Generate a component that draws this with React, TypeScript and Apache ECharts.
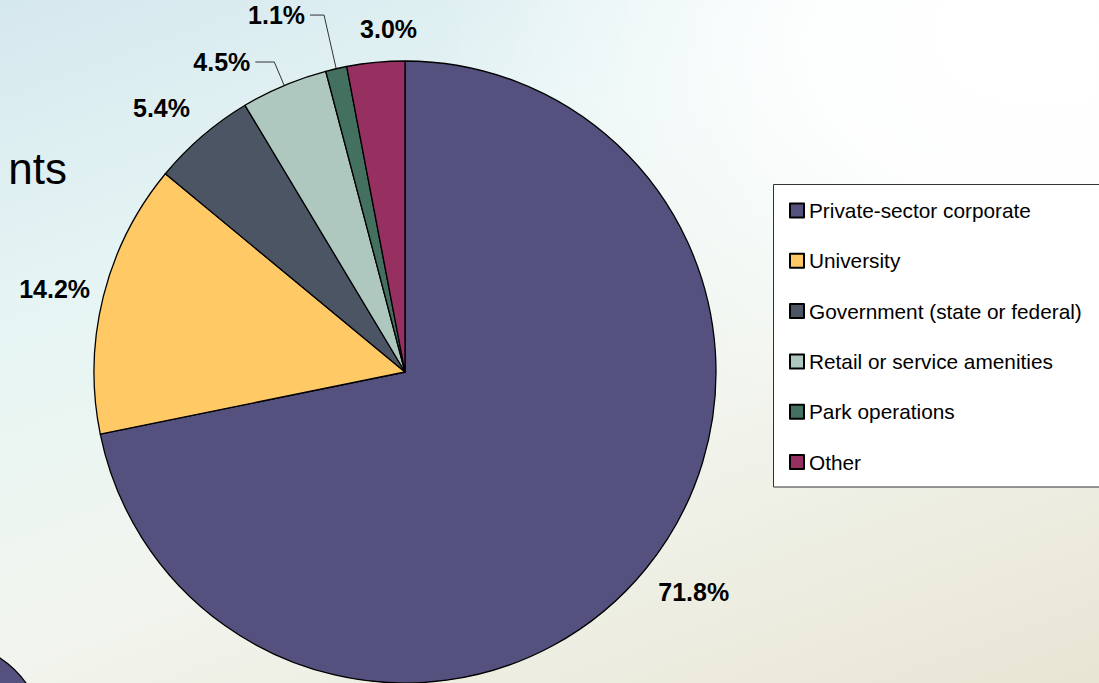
import React, { useEffect, useRef } from "react";
import * as echarts from "echarts";

const categories = [
  "Private-sector corporate",
  "University",
  "Government (state or federal)",
  "Retail or service amenities",
  "Park operations",
  "Other",
];
const shares = [71.8, 14.2, 5.4, 4.5, 1.1, 3.0];
const colors = ["#55517e", "#ffc966", "#4b5563", "#aec8bf", "#44705f", "#963060"];
// label line lengths (radial, horizontal) and visibility per slice
const lineLen = [36.7, 31, 37, 25.4, 55, 33.5];
const lineLen2 = [-21, -21.8, -16.8, 19, 14, -49.5];
const lineShow = [false, false, false, true, true, false];

const FONT = '"Liberation Sans", Arial, Helvetica, sans-serif';

export default function App() {
  const ref = useRef<HTMLDivElement>(null);
  useEffect(() => {
    if (!ref.current) return;
    const chart = echarts.init(ref.current, null, { renderer: "svg" });
    chart.setOption({
      animation: false,
      backgroundColor: "transparent",
      graphic: [
        {
          type: "text",
          right: 1099 - 67,
          top: 146,
          style: { text: "nts", font: `44px ${FONT}`, fill: "#000" },
          z: 1,
        },
        {
          type: "circle",
          shape: { cx: -56, cy: 742, r: 101 },
          style: { fill: "#55517e", stroke: "#000", lineWidth: 1.2 },
          z: 1,
        },
        {
          type: "rect",
          shape: { x: 773.5, y: 184.5, width: 330, height: 302.5 },
          style: { fill: "#ffffff", stroke: "#333", lineWidth: 1 },
          z: 1,
        },
      ],
      legend: {
        orient: "vertical",
        left: 789,
        top: 200,
        padding: 0,
        itemWidth: 14,
        itemHeight: 14,
        itemGap: 29.3,
        icon: "rect",
        selectedMode: false,
        textStyle: { fontFamily: FONT, fontSize: 20.8, color: "#000", lineHeight: 20 },
        z: 5,
      },
      series: [
        {
          type: "pie",
          center: [405, 372],
          radius: 311,
          startAngle: 90,
          clockwise: true,
          avoidLabelOverlap: false,
          itemStyle: { borderColor: "#000", borderWidth: 1.3 },
          label: {
            show: true,
            position: "outside",
            formatter: (p: any) => `${Number(p.value).toFixed(1)}%`,
            fontFamily: FONT,
            fontWeight: "bold",
            fontSize: 25,
            color: "#000",
            distanceToLabelLine: 5,
          },
          labelLine: { lineStyle: { color: "#333", width: 1 } },
          emphasis: { disabled: true },
          data: categories.map((name, i) => ({
            name,
            value: shares[i],
            itemStyle: { color: colors[i] },
            labelLine: { show: lineShow[i], length: lineLen[i], length2: lineLen2[i] },
          })),
        },
      ],
    });
    return () => chart.dispose();
  }, []);
  return (
    <div
      ref={ref}
      style={{
        position: "fixed",
        left: 0,
        top: 0,
        width: 1099,
        height: 683,
        background:
          "radial-gradient(ellipse 55% 60% at 95% 5%, #ffffff 0%, rgba(255,255,255,0.9) 40%, rgba(255,255,255,0) 100%), linear-gradient(160deg, #d6e8ef 0%, #e6f5f4 30%, #f2f5ee 60%, #e8e5d4 100%)",
      }}
    />
  );
}
